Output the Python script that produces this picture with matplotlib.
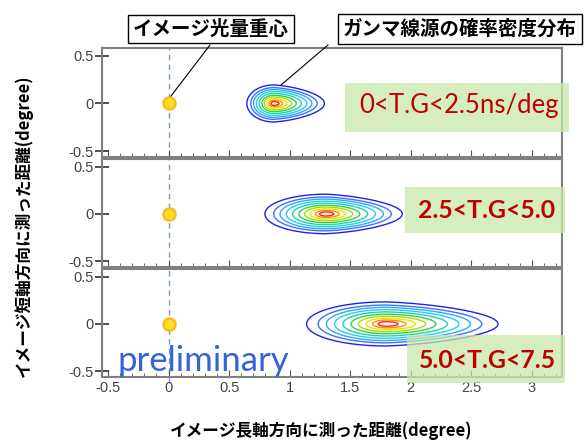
import numpy as np
import matplotlib
matplotlib.use("Agg")
import matplotlib.pyplot as plt
from matplotlib.patches import Rectangle
from matplotlib.ticker import MultipleLocator

# peak position and outer-contour extents of the gamma-source density in each panel
peak_x = [0.87, 1.30, 1.80]
extent_left = [0.23, 0.52, 0.68]
extent_right = [0.43, 0.65, 0.95]
extent_y = [0.20, 0.215, 0.24]
tg_labels = ["0<T.G<2.5ns/deg", "2.5<T.G<5.0", "5.0<T.G<7.5"]
centroid_x = [0.0, 0.0, 0.0]
centroid_y = [0.0, 0.0, 0.0]
contour_levels = [0.03, 0.17, 0.27, 0.37, 0.47, 0.57, 0.66, 0.75, 0.83, 0.90]
ytick_vals = [-0.5, 0, 0.5]
ytick_labels = ["-0.5", "0", "0.5"]
xtick_vals = [-0.5, 0, 0.5, 1, 1.5, 2, 2.5, 3]
xtick_labels = ["-0.5", "0", "0.5", "1", "1.5", "2", "2.5", "3"]

contour_colors = ['#2020f0', '#4070ff', '#30a8ff', '#20d0f0', '#20d0b0',
                  '#30d050', '#a0e000', '#f0e000', '#ff9000', '#ff2020']

W, H = 587, 441
fig = plt.figure(figsize=(W / 100, H / 100), dpi=100)

def fx(px):
    return px / W

def fy(py):
    return 1 - py / H

panels = [(48, 157), (159, 267), (269, 377)]
left_px, right_px = 102, 562

gx = np.linspace(-0.6, 3.3, 600)
gy = np.linspace(-0.6, 0.6, 300)
X, Y = np.meshgrid(gx, gy)

axes = []
for i, (top, bot) in enumerate(panels):
    ax = fig.add_axes([fx(left_px), fy(bot), fx(right_px - left_px), (bot - top) / H])
    axes.append(ax)
    dx = X - peak_x[i]
    ex = np.where(dx < 0, extent_left[i], extent_right[i])
    taper = 1 - 0.2 * np.clip(dx / extent_right[i], 0, 1)
    r = np.sqrt((dx / ex) ** 2 + (Y / (extent_y[i] * taper)) ** 2)
    Z = np.clip(1 - r, 0, None)
    ax.contour(X, Y, Z, levels=contour_levels, colors=contour_colors, linewidths=1.0)

    ax.axvline(0, color='#7d9bd0', ls=(0, (4, 3)), lw=1.0, zorder=1,
               ymin=-0.06 if i == 2 else 0, clip_on=False)
    ax.scatter(centroid_x[i], centroid_y[i], s=75, color='#ffe020', edgecolor='#ffba20',
               linewidth=1.8, zorder=3)

    ax.set_xlim(-0.55, 3.25)
    ax.set_ylim(-0.56, 0.58)
    ax.set_yticks(ytick_vals)
    ax.set_yticklabels(ytick_labels)
    ax.set_xticks(xtick_vals)
    ax.xaxis.set_minor_locator(MultipleLocator(0.1))
    ax.tick_params(axis='y', direction='inout', length=10, width=1.2, color='#333333',
                   labelsize=10.5, labelcolor='#444444', pad=1)
    ax.tick_params(axis='x', which='major', direction='in', length=5, color='#555555')
    ax.tick_params(axis='x', which='minor', direction='in', length=3, color='#555555')
    if i < 2:
        ax.set_xticklabels([])
    else:
        ax.set_xticklabels(xtick_labels)
        ax.tick_params(axis='x', labelsize=10.5, labelcolor='#444444', pad=3)
    for sp in ax.spines.values():
        sp.set_color('#808080')
        sp.set_linewidth(1.5)
    for lab in ax.get_yticklabels() + ax.get_xticklabels():
        lab.set_family('Liberation Sans')

axes[2].text(-0.42, -0.5, "preliminary", color='#3462d8', fontsize=25,
             family='Lato', ha='left', va='baseline', zorder=4)

# green label boxes
boxes = [(345, 83, 569, 132), (405, 187, 565, 233), (407, 335, 565, 383)]
text_y = [106, 211, 361]
text_w = ['normal', 'bold', 'bold']
text_fs = [18.5, 17.8, 17.8]
for i, (x0, y0, x1, y1) in enumerate(boxes):
    fig.add_artist(Rectangle((fx(x0), fy(y1)), fx(x1 - x0), (y1 - y0) / H,
                             transform=fig.transFigure, facecolor='#c8e8aa',
                             edgecolor='none', alpha=0.75, zorder=5))
    fig.text(fx((x0 + x1) / 2 + 2), fy(text_y[i]), tg_labels[i], color='#c00000',
             fontsize=text_fs[i], fontweight=text_w[i], family='Lato',
             ha='center', va='center', zorder=6)

# callout boxes
jp = ['Noto Sans CJK JP', 'DejaVu Sans']
fig.text(fx(211), fy(29), "イメージ光量重心", fontsize=14, fontweight='bold', family=jp,
         ha='center', va='center',
         bbox=dict(boxstyle='square,pad=0.25', facecolor='white', edgecolor='black', lw=1))
fig.text(fx(460), fy(29), "ガンマ線源の確率密度分布", fontsize=14, fontweight='bold', family=jp,
         ha='center', va='center',
         bbox=dict(boxstyle='square,pad=0.25', facecolor='white', edgecolor='black', lw=1))
fig.add_artist(plt.Line2D([fx(210), fx(171)], [fy(45), fy(96)], color='black', lw=0.8))
fig.add_artist(plt.Line2D([fx(328), fx(281)], [fy(45), fy(85)], color='black', lw=0.8))

fig.text(fx(24), fy(226), "イメージ短軸方向に測った距離(degree)", rotation=90, fontsize=12,
         fontweight='bold', family=jp, ha='center', va='center')
fig.text(fx(321), fy(431), "イメージ長軸方向に測った距離(degree)", fontsize=12,
         fontweight='bold', family=jp, ha='center', va='center')

fig.savefig("out.png", dpi=100)
